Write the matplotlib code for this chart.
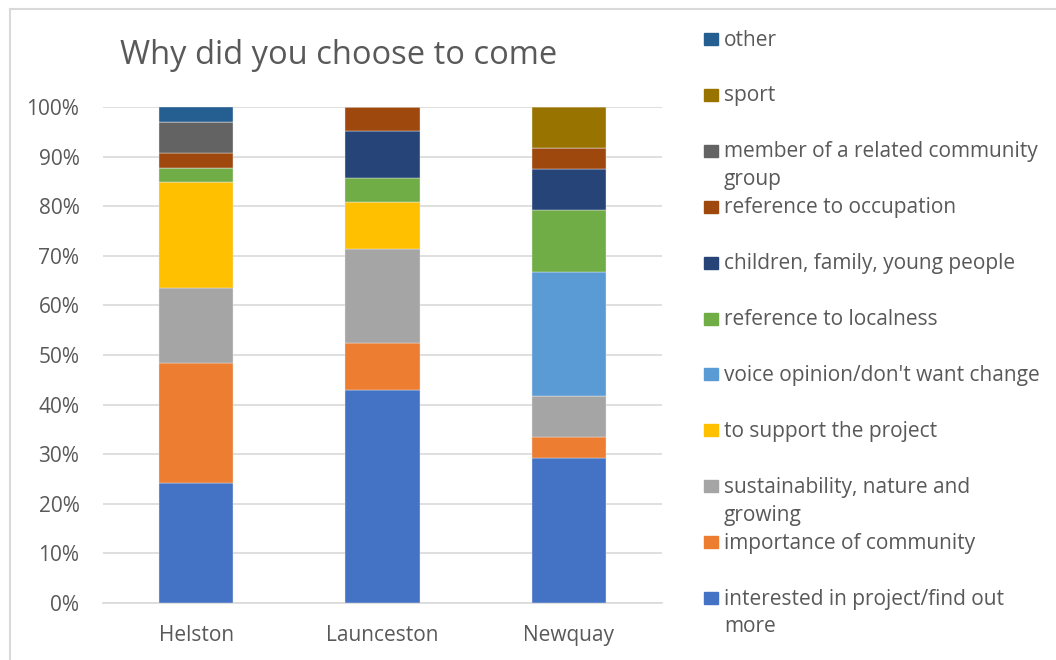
import matplotlib
matplotlib.use('Agg')
import matplotlib.pyplot as plt
from matplotlib.patches import Rectangle
from matplotlib.lines import Line2D
import numpy as np

plt.rcParams['font.family'] = ['Open Sans', 'DejaVu Sans']

# === data (percent of respondents per site) ===
sites = ['Helston', 'Launceston', 'Newquay']

interested = [24.2, 42.9, 29.2]
importance = [24.2, 9.5, 4.2]
sustainability = [15.2, 19.0, 8.3]
support = [21.2, 9.5, 0.0]
voice = [0.0, 0.0, 25.0]
localness = [3.0, 4.8, 12.5]
children = [0.0, 9.5, 8.3]
occupation = [3.0, 4.8, 4.2]
member = [6.1, 0.0, 0.0]
sport = [0.0, 0.0, 8.3]
other = [3.0, 0.0, 0.0]

labels = ['interested in project/find out\nmore', 'importance of community',
          'sustainability, nature and\ngrowing', 'to support the project',
          "voice opinion/don't want change", 'reference to localness',
          'children, family, young people', 'reference to occupation',
          'member of a related community\ngroup', 'sport', 'other']
series = [interested, importance, sustainability, support, voice, localness,
          children, occupation, member, sport, other]
colors = ['#4472C4', '#ED7D31', '#A5A5A5', '#FFC000', '#5B9BD5', '#70AD47',
          '#264478', '#9E480E', '#636363', '#997300', '#255E91']

W, H = 1056, 660
TXT = '#595959'
GRID = '#d9d9d9'

fig = plt.figure(figsize=(W / 100, H / 100), dpi=100)
ax = fig.add_axes([103 / W, 57 / H, 559 / W, 496 / H])

x = np.arange(len(sites))
bottom = np.zeros(len(sites))
for vals, c in zip(series, colors):
    ax.bar(x, vals, 0.4, bottom=bottom, color=c, edgecolor='#e8e8e8',
           linewidth=0.3, zorder=3)
    bottom += np.array(vals)

ax.set_xlim(-0.5, 2.5)
ax.set_ylim(0, 100)
ax.set_yticks(range(0, 101, 10))
ax.set_yticklabels([f'{v}%' for v in range(0, 101, 10)])
ax.set_xticks(x)
ax.set_xticklabels(sites)
ax.tick_params(length=0, labelsize=15, labelcolor=TXT)
ax.tick_params(axis='y', pad=17)
ax.tick_params(axis='x', pad=16)
ax.grid(axis='y', color=GRID, linewidth=1.2, zorder=0)
for s in ['top', 'right', 'left']:
    ax.spines[s].set_visible(False)
ax.spines['bottom'].set_color(GRID)
ax.spines['bottom'].set_linewidth(1.2)

fig.text(120 / W, 1 - 55 / H, 'Why did you choose to come', fontsize=23.5,
         color=TXT, va='center', ha='left')

# legend, top entry = last series
step = 55.9
for i, (lab, c) in enumerate(zip(labels[::-1], colors[::-1])):
    yc = 39 + i * step
    fig.add_artist(Rectangle((704 / W, 1 - (yc + 6) / H), 14 / W, 12 / H,
                             transform=fig.transFigure, color=c))
    for j, line in enumerate(lab.split('\n')):
        fig.text(724 / W, 1 - (yc + 1 + j * 28) / H, line, fontsize=15,
                 color=TXT, va='center', ha='left')

# chart area border (top and left edges visible)
fig.add_artist(Line2D([10 / W, 1], [1 - 9 / H, 1 - 9 / H], color=GRID,
                      linewidth=1.5, transform=fig.transFigure))
fig.add_artist(Line2D([10 / W, 10 / W], [0, 1 - 9 / H], color=GRID,
                      linewidth=1.5, transform=fig.transFigure))

fig.savefig('out.png', dpi=100)
